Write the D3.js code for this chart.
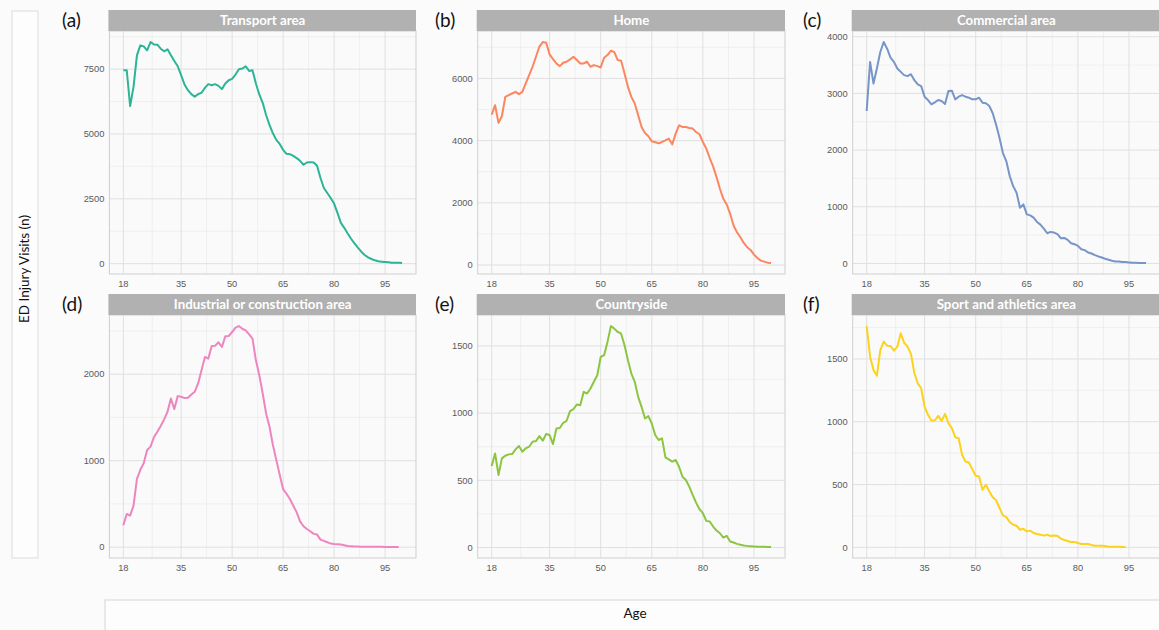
<!DOCTYPE html>
<html>
<head>
<meta charset="utf-8">
<script src="https://cdn.jsdelivr.net/npm/d3@7"></script>
<style>
  body { margin: 0; background: #fbfbfb; }
  svg { display: block; }
</style>
</head>
<body>
<svg id="chart"></svg>
<script>
const width = 1159;
const height = 630;

// ages on the x axis
const ages = [18,19,20,21,22,23,24,25,26,27,28,29,30,31,32,33,34,35,36,37,38,39,40,41,42,43,44,45,46,47,
  48,49,50,51,52,53,54,55,56,57,58,59,60,61,62,63,64,65,66,67,68,69,70,71,72,73,74,75,76,77,
  78,79,80,81,82,83,84,85,86,87,88,89,90,91,92,93,94,95,96,97,98,99,100];
const ageTicks = [18, 35, 50, 65, 80, 95];
const ageMinor = [26.5, 42.5, 57.5, 72.5, 87.5];

const titles = ["Transport area", "Home", "Commercial area",
  "Industrial or construction area", "Countryside", "Sport and athletics area"];
const letters = ["(a)", "(b)", "(c)", "(d)", "(e)", "(f)"];

const transport = [7457,7457,6075,6817,8032,8416,8377,8224,8544,8454,8441,8288,8186,8262,8032,7815,7610,7265,6907,6689,
  6536,6434,6536,6587,6779,6920,6881,6920,6855,6728,6945,7073,7124,7290,7495,7520,7610,7431,7457,6945,
  6523,6203,5730,5346,5026,4771,4617,4387,4233,4221,4157,4067,3965,3811,3901,3914,3901,3773,3300,2916,
  2724,2532,2315,1957,1573,1381,1164,959,780,614,460,333,243,179,128,90,77,64,51,38,38,38,26];
const home = [4838,5139,4569,4784,5407,5461,5515,5569,5493,5569,5837,6106,6375,6697,7020,7170,7149,6773,6622,6482,
  6396,6504,6536,6611,6697,6590,6482,6482,6536,6375,6428,6396,6353,6665,6751,6891,6848,6590,6568,6160,
  5730,5407,5192,4816,4440,4246,4139,3977,3945,3913,3956,4010,4063,3880,4225,4493,4440,4440,4407,4386,
  4278,4203,3956,3741,3440,3171,2827,2451,2128,1946,1645,1268,1054,892,710,570,484,333,226,140,108,75,65];
const commercial = [2690,3556,3175,3439,3731,3906,3789,3632,3556,3439,3380,3322,3304,3339,3234,3158,3129,2942,2883,2807,
  2842,2883,2866,2813,3041,3047,2895,2942,2971,2942,2924,2895,2895,2924,2836,2825,2778,2649,2445,2211,
  1947,1801,1538,1363,1246,982,1041,865,848,807,731,684,614,532,556,544,515,444,450,415,
  357,339,310,251,234,193,175,146,123,105,82,64,47,35,35,23,23,18,12,10,9,8,8];
const industrial = [253,384,365,480,791,895,971,1125,1163,1271,1336,1401,1478,1566,1720,1597,1747,1739,1724,1728,
  1766,1797,1893,2046,2200,2181,2326,2330,2369,2315,2438,2442,2488,2538,2557,2526,2507,2461,2411,2161,
  1989,1777,1547,1394,1182,1010,837,672,618,557,480,403,299,242,211,184,154,146,88,73,
  58,42,38,35,31,23,15,12,8,7,6,6,5,5,4,4,4,3,3,3,3,3];
const countryside = [606,700,540,663,683,693,695,730,755,713,738,750,787,792,829,795,844,837,770,886,
  889,928,943,1015,1030,1064,1059,1158,1146,1183,1233,1282,1418,1431,1530,1648,1629,1604,1591,1505,
  1393,1294,1233,1121,1047,960,978,923,837,800,812,671,656,639,651,601,527,502,453,391,
  334,285,255,198,193,156,126,106,74,87,45,37,27,20,15,12,10,8,6,5,5,4,4];
const sport = [1762,1518,1412,1367,1571,1638,1606,1603,1566,1598,1704,1630,1598,1540,1386,1306,1267,1121,1055,1010,
  1010,1047,1007,1063,988,949,877,869,737,684,676,623,570,564,458,498,445,398,374,313,
  254,241,201,180,172,140,148,127,133,114,106,101,93,101,90,95,93,69,58,50,
  42,42,34,27,27,27,19,13,13,13,11,5,5,4,4,3,3];

const yTicks = [
  [0, 2500, 5000, 7500],
  [0, 2000, 4000, 6000],
  [0, 1000, 2000, 3000, 4000],
  [0, 1000, 2000],
  [0, 500, 1000, 1500],
  [0, 500, 1000, 1500]
];
const series = [transport, home, commercial, industrial, countryside, sport];
const colors = ["#2bb496", "#fb8660", "#7895c8", "#ee85bf", "#8cc541", "#fdd21c"];

// layout
const cols = [[109.4, 416], [477.7, 785], [852.7, 1160]];
const rows = [{ strip: 10, top: 31, bottom: 274 }, { strip: 294, top: 315, bottom: 558 }];
const letterX = [62, 435, 803];

const svg = d3.select("#chart")
    .attr("width", width)
    .attr("height", height)
    .style("font-family", "Lato, 'Open Sans', sans-serif");

svg.append("rect").attr("width", width).attr("height", height).attr("fill", "#fbfbfb");

// y title box
svg.append("rect")
    .attr("x", 12).attr("y", 11).attr("width", 26).attr("height", 547)
    .attr("fill", "#fdfdfd").attr("stroke", "#dcdcdc");
svg.append("text")
    .attr("transform", "translate(29,269) rotate(-90)")
    .attr("text-anchor", "middle")
    .attr("font-size", 13.5)
    .attr("fill", "#111")
    .text("ED Injury Visits (n)");

// x title box
svg.append("rect")
    .attr("x", 105).attr("y", 600).attr("width", 1060).attr("height", 40)
    .attr("fill", "#fdfdfd").attr("stroke", "#d6d6d6");
svg.append("text")
    .attr("x", 635).attr("y", 618)
    .attr("text-anchor", "middle")
    .attr("font-size", 13.5)
    .attr("fill", "#111")
    .text("Age");

series.forEach((vals, i) => {
  const col = cols[i % 3];
  const row = rows[Math.floor(i / 3)];
  const data = vals.map((v, k) => ({ age: ages[k], n: v }));

  // ggplot-like 5% expansion
  const xExt = [18, 100];
  const xPad = (xExt[1] - xExt[0]) * 0.05;
  const x = d3.scaleLinear().domain([xExt[0] - xPad, xExt[1] + xPad]).range(col);

  const yExt = d3.extent(vals);
  const yPad = (yExt[1] - yExt[0]) * 0.05;
  const y = d3.scaleLinear().domain([yExt[0] - yPad, yExt[1] + yPad]).range([row.bottom, row.top]);

  const g = svg.append("g");

  g.append("rect")
      .attr("x", col[0]).attr("y", row.top)
      .attr("width", col[1] - col[0]).attr("height", row.bottom - row.top)
      .attr("fill", "#fafafa");

  // minor grid
  const ticks = yTicks[i];
  const step = ticks[1] - ticks[0];
  const yMinor = ticks.map(t => t + step / 2).filter(t => t < y.domain()[1]);

  g.selectAll(".ymin").data(yMinor).enter().append("line")
      .attr("x1", col[0]).attr("x2", col[1])
      .attr("y1", d => y(d)).attr("y2", d => y(d))
      .attr("stroke", "#ececec").attr("stroke-width", 0.8);
  g.selectAll(".xmin").data(ageMinor).enter().append("line")
      .attr("x1", d => x(d)).attr("x2", d => x(d))
      .attr("y1", row.top).attr("y2", row.bottom)
      .attr("stroke", "#ececec").attr("stroke-width", 0.8);

  // major grid
  g.selectAll(".ymaj").data(ticks).enter().append("line")
      .attr("x1", col[0]).attr("x2", col[1])
      .attr("y1", d => y(d)).attr("y2", d => y(d))
      .attr("stroke", "#e0e0e0").attr("stroke-width", 1);
  g.selectAll(".xmaj").data(ageTicks).enter().append("line")
      .attr("x1", d => x(d)).attr("x2", d => x(d))
      .attr("y1", row.top).attr("y2", row.bottom)
      .attr("stroke", "#e0e0e0").attr("stroke-width", 1);

  // border
  g.append("rect")
      .attr("x", col[0]).attr("y", row.top)
      .attr("width", col[1] - col[0]).attr("height", row.bottom - row.top)
      .attr("fill", "none").attr("stroke", "#cfcfcf").attr("stroke-width", 1);

  // tick labels
  g.selectAll(".yl").data(ticks).enter().append("text")
      .attr("x", col[0] - 5).attr("y", d => y(d))
      .attr("dy", "0.35em")
      .attr("text-anchor", "end")
      .attr("font-family", "'Liberation Sans', Arial, sans-serif")
      .attr("font-size", 9.3)
      .attr("fill", "#5a5a5a")
      .text(d => d);
  g.selectAll(".xl").data(ageTicks).enter().append("text")
      .attr("x", d => x(d)).attr("y", row.bottom + 10)
      .attr("dy", "0.35em")
      .attr("text-anchor", "middle")
      .attr("font-family", "'Liberation Sans', Arial, sans-serif")
      .attr("font-size", 9.3)
      .attr("fill", "#5a5a5a")
      .text(d => d);

  // line
  const line = d3.line().x(d => x(d.age)).y(d => y(d.n));
  g.append("path")
      .datum(data)
      .attr("d", line)
      .attr("fill", "none")
      .attr("stroke", colors[i])
      .attr("stroke-width", 2)
      .attr("stroke-linejoin", "round");

  // strip
  g.append("rect")
      .attr("x", col[0] - 1).attr("y", row.strip)
      .attr("width", col[1] - col[0] + 1).attr("height", row.top - row.strip)
      .attr("fill", "#b1b1b1");
  g.append("text")
      .attr("x", (col[0] + col[1]) / 2).attr("y", (row.strip + row.top) / 2)
      .attr("dy", "0.36em")
      .attr("text-anchor", "middle")
      .attr("font-size", 13.3)
      .attr("font-weight", "bold")
      .attr("fill", "#ffffff")
      .text(titles[i]);

  // panel letter
  svg.append("text")
      .attr("x", letterX[i % 3]).attr("y", row.strip + 10)
      .attr("dy", "0.35em")
      .attr("font-size", 19)
      .attr("fill", "#111")
      .text(letters[i]);
});
</script>
</body>
</html>
